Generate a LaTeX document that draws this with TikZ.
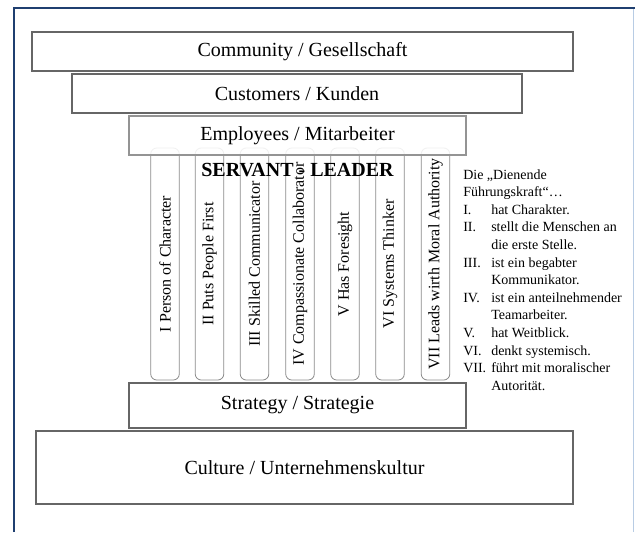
\documentclass[tikz,border=0pt]{standalone}
\usepackage{fontspec}
\setmainfont{Liberation Serif}
\definecolor{frameblue}{HTML}{1F3F70}
\definecolor{framelight}{HTML}{B8CCE4}
\definecolor{boxgray}{HTML}{666666}
\definecolor{pillargray}{HTML}{8A8A8A}
\begin{document}
\begin{tikzpicture}[x=0.75pt,y=-0.75pt,
  layerbox/.style={draw=boxgray, line width=0.9pt, fill=white, inner sep=0pt,
    font=\fontsize{15}{18}\selectfont},
  pillar/.style={draw=pillargray, line width=0.6pt, rounded corners=4.5pt, rotate=90,
    minimum width=174pt, minimum height=21.4pt, inner sep=0pt,
    font=\fontsize{12}{14}\selectfont}]
\useasboundingbox (0,0) rectangle (635,532);
% frame
\draw[framelight, line width=0.8pt] (633.5,9) -- (633.5,532);
\draw[frameblue, line width=1.6pt] (14,532) -- (14,8) -- (635,8);
% pillars
\node[pillar] (p1) at (165,264) {I Person of Character};
\node[pillar] (p2) at (209.5,264) {II Puts People First};
\node[pillar] (p3) at (254.5,264) {III Skilled Communicator};
\node[pillar] (p4) at (300,264) {IV Compassionate Collaborator};
\node[pillar] (p5) at (345,264) {V Has Foresight};
\node[pillar] (p6) at (390,264) {VI Systems Thinker};
\node[pillar] (p7) at (435.5,264) {VII Leads wirth Moral Authority};
% layers
\node[layerbox, minimum width=405.75pt, minimum height=29.25pt] (community) at (302.5,51.5) {Community / Gesellschaft};
\node[layerbox, minimum width=337.5pt, minimum height=29.25pt] (customers) at (297,93.5) {Customers / Kunden};
\node[layerbox, draw=boxgray!70, fill opacity=0.88, text opacity=1, minimum width=252.75pt, minimum height=29.25pt] (employees) at (297.5,135.5) {Employees / Mitarbeiter};
\node[layerbox, minimum width=252.75pt, minimum height=33.75pt] (strategy) at (297.5,405.5) {Strategy / Strategie};
\node[layerbox, minimum width=402.75pt, minimum height=54.75pt] (culture) at (304.5,467.5) {Culture / Unternehmenskultur};
% title
\node[inner sep=0pt, font=\fontsize{15}{18}\selectfont\bfseries] (servant) at (297.5,170) {SERVANT - LEADER};
% right list
\node[anchor=base west, inner sep=0pt, font=\fontsize{10.5}{13.2}\selectfont] (list) at (463,179) {%
\begin{tabular}[t]{@{}p{21pt}@{}l@{}}
\multicolumn{2}{@{}l@{}}{Die „Dienende}\\
\multicolumn{2}{@{}l@{}}{Führungskraft“…}\\
I. & hat Charakter.\\
II. & stellt die Menschen an\\
 & die erste Stelle.\\
III. & ist ein begabter\\
 & Kommunikator.\\
IV. & ist ein anteilnehmender\\
 & Teamarbeiter.\\
V. & hat Weitblick.\\
VI. & denkt systemisch.\\
VII. & führt mit moralischer\\
 & Autorität.
\end{tabular}};
\end{tikzpicture}
\end{document}
